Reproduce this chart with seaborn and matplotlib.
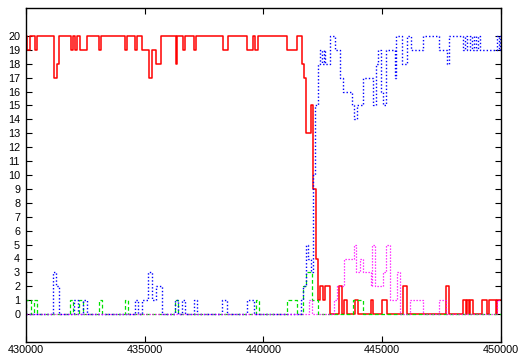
import matplotlib
matplotlib.use('Agg')
import matplotlib.pyplot as plt
import seaborn as sns
import pandas as pd

# step series: x where a new value starts, value held until next x
red_x = [430000, 430050, 430180, 430380, 430490, 431200, 431300, 431410, 431890, 431980,
         432060, 432150, 432280, 432590, 433080, 433180, 434190, 434280, 434590, 434700,
         434910, 435200, 435300, 435480, 435710, 436310, 436380, 436610, 436700, 437080,
         437180, 438300, 438510, 439300, 439580, 439650, 439780, 440980, 441400, 441610,
         441710, 441800, 442000, 442100, 442200, 442310, 442380, 442500, 442600, 442800,
         443200, 443320, 443390, 443510, 443860, 444000, 444520, 444630, 445010, 445220,
         445890, 446030, 447690, 447830, 448410, 448530, 448570, 448640, 448700, 448840,
         449210, 449420, 449510, 449790, 449820, 450000]
red_y = [20, 19, 20, 19, 20, 17, 18, 20, 19, 20,
         19, 20, 19, 20, 19, 20, 19, 20, 19, 20,
         19, 17, 19, 18, 20, 18, 20, 19, 20, 19,
         20, 19, 20, 19, 20, 19, 20, 19, 20, 18,
         17, 13, 15, 9, 4, 1, 2, 1, 2, 0,
         2, 0, 1, 0, 1, 0, 1, 0, 1, 0,
         2, 0, 2, 0, 1, 0, 1, 0, 1, 0,
         1, 0, 1, 0, 1, 1]

green_x = [430000, 430010, 430210, 430350, 430460, 431860, 432000, 432260, 432400, 433080,
           433200, 434180, 434290, 436280, 436420, 439690, 439800, 440980, 441400, 441660,
           441800, 442040, 442310, 443790, 444180, 450000]
green_y = [0, 1, 0, 1, 0, 1, 0, 1, 0, 1,
           0, 1, 0, 1, 0, 1, 0, 1, 0, 2,
           3, 1, 0, 1, 0, 0]

blue_x = [430000, 431160, 431280, 431410, 432030, 432210, 432420, 432590, 434600, 434740,
          434880, 435160, 435300, 435480, 435720, 436280, 436420, 436560, 436700, 437080,
          437220, 438270, 438460, 439300, 439610, 441570, 441660, 441800, 441880, 442010,
          442100, 442190, 442310, 442380, 442480, 442550, 442600, 442800, 443020, 443230,
          443340, 443720, 443820, 443930, 444210, 444630, 444740, 444840, 444940, 445040,
          445180, 445520, 445600, 445830, 446030, 446200, 446710, 447400, 447720, 447830,
          448410, 448490, 448570, 448700, 448780, 448860, 448940, 449030, 449120, 449820,
          449900, 449960, 450000]
blue_y = [0, 3, 2, 0, 1, 0, 1, 0, 1, 0,
          1, 3, 1, 2, 0, 1, 0, 1, 0, 1,
          0, 1, 0, 1, 0, 1, 2, 5, 4, 3,
          10, 15, 18, 19, 18, 19, 18, 20, 19, 17,
          16, 15, 14, 15, 17, 15, 18, 19, 16, 15,
          19, 17, 20, 18, 20, 19, 20, 19, 18, 20,
          19, 20, 19, 20, 19, 20, 19, 20, 19, 20,
          19, 20, 20]

pink_x = [430000, 441900, 442040, 442990, 443100, 443390, 443820, 443900, 444070, 444210,
          444520, 444590, 444700, 444890, 445020, 445160, 445330, 445610, 445750, 446170,
          446730, 447400, 447690, 449820, 450000]
pink_y = [0, 1, 0, 1, 2, 4, 5, 3, 4, 3,
          2, 5, 2, 2, 3, 5, 1, 3, 0, 1,
          0, 1, 0, 1, 1]

x_ticks = list(range(430000, 450001, 5000))
y_ticks = list(range(0, 21))

series = [
    (red_x, red_y, '#ff0000', '-', 1.1),
    (green_x, green_y, '#00e000', (0, (3, 2)), 0.9),
    (blue_x, blue_y, '#0000ff', (0, (1, 1.5)), 1.0),
    (pink_x, pink_y, '#ff00ff', (0, (1, 1.4)), 0.9),
]

sns.set_theme(style='white')
plt.rcParams['font.family'] = ['Liberation Sans', 'DejaVu Sans']

fig = plt.figure(figsize=(5.19, 3.58), dpi=100)
ax = fig.add_axes([25.7 / 519, 1 - 342 / 358, (501 - 25.7) / 519, (342 - 8) / 358])

for xs, ys, col, ls, lw in series:
    df = pd.DataFrame({'x': xs, 'y': ys})
    sns.lineplot(data=df, x='x', y='y', ax=ax, color=col, linestyle=ls, linewidth=lw,
                 drawstyle='steps-post', estimator=None, sort=False)

ax.set_xlim(430000, 450000)
ax.set_ylim(-2, 22)
ax.set_xticks(x_ticks)
ax.set_xticklabels([str(t) for t in x_ticks])
ax.set_yticks(y_ticks)
ax.set_xlabel('')
ax.set_ylabel('')
ax.tick_params(direction='in', length=4, width=0.8, color='black', labelsize=7.8,
               labelcolor='black', top=True, right=True, bottom=True, left=True, pad=4)
ax.tick_params(axis='x', pad=2)
for s in ax.spines.values():
    s.set_color('black')
    s.set_linewidth(1.0)

fig.savefig('out.png', dpi=100)
